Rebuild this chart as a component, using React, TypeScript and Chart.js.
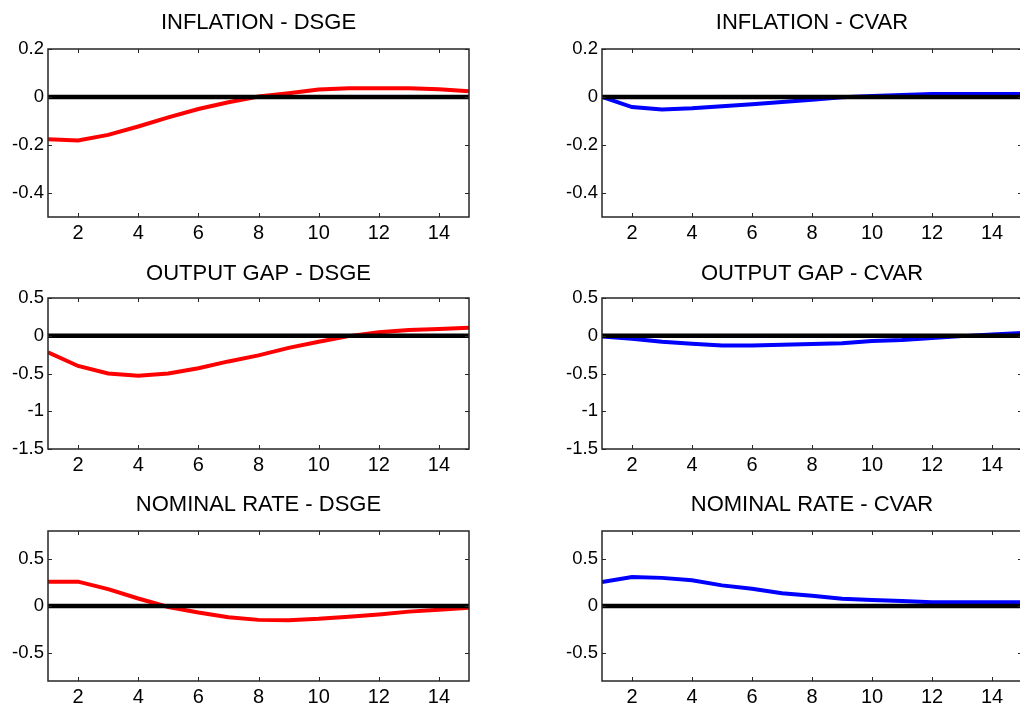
import React, { useEffect, useRef } from "react";
import { Chart, registerables } from "chart.js";

Chart.register(...registerables);

// ---------- data ----------
const periods = [1, 2, 3, 4, 5, 6, 7, 8, 9, 10, 11, 12, 13, 14, 15];
const xTicks = [2, 4, 6, 8, 10, 12, 14];
const zeroLine = [0, 0, 0, 0, 0, 0, 0, 0, 0, 0, 0, 0, 0, 0, 0];

const inflationDSGE = [-0.176, -0.181, -0.158, -0.123, -0.085, -0.05, -0.022, 0.002, 0.016, 0.031, 0.036, 0.036, 0.036, 0.032, 0.024];
const inflationCVAR = [0.0, -0.042, -0.052, -0.047, -0.039, -0.03, -0.021, -0.011, -0.001, 0.004, 0.008, 0.012, 0.013, 0.013, 0.013];
const outputGapDSGE = [-0.22, -0.4, -0.5, -0.53, -0.5, -0.43, -0.34, -0.26, -0.16, -0.08, -0.005, 0.045, 0.075, 0.09, 0.105];
const outputGapCVAR = [-0.01, -0.04, -0.08, -0.105, -0.13, -0.13, -0.12, -0.11, -0.1, -0.07, -0.055, -0.03, -0.005, 0.015, 0.035];
const nominalRateDSGE = [0.26, 0.26, 0.18, 0.08, -0.01, -0.07, -0.12, -0.148, -0.151, -0.137, -0.115, -0.09, -0.06, -0.04, -0.018];
const nominalRateCVAR = [0.255, 0.31, 0.3, 0.275, 0.22, 0.185, 0.135, 0.11, 0.077, 0.065, 0.053, 0.04, 0.04, 0.04, 0.04];

const inflationTicks = [-0.4, -0.2, 0, 0.2];
const outputGapTicks = [-1.5, -1, -0.5, 0, 0.5];
const nominalRateTicks = [-0.5, 0, 0.5];

const titles = [
  "INFLATION - DSGE",
  "INFLATION - CVAR",
  "OUTPUT GAP - DSGE",
  "OUTPUT GAP - CVAR",
  "NOMINAL RATE - DSGE",
  "NOMINAL RATE - CVAR",
];

const FONT = "'Liberation Sans', Arial, Helvetica, sans-serif";
const DSGE_COLOR = "#ff0000";
const CVAR_COLOR = "#0000ff";

// ---------- layout ----------
const rows = [
  { top: 10, height: 237, gap: 12.6, yMin: -0.5, yMax: 0.2, ticks: inflationTicks },
  { top: 261, height: 218, gap: 10.6, yMin: -1.5, yMax: 0.5, ticks: outputGapTicks },
  { top: 492, height: 219, gap: 12.6, yMin: -0.8, yMax: 0.8, ticks: nominalRateTicks },
];
const cols = [
  { left: 0, width: 480, padRight: 11 },
  { left: 554, width: 480, padRight: 12 },
];

const panels = [
  { title: titles[0], data: inflationDSGE, color: DSGE_COLOR, row: 0, col: 0 },
  { title: titles[1], data: inflationCVAR, color: CVAR_COLOR, row: 0, col: 1 },
  { title: titles[2], data: outputGapDSGE, color: DSGE_COLOR, row: 1, col: 0 },
  { title: titles[3], data: outputGapCVAR, color: CVAR_COLOR, row: 1, col: 1 },
  { title: titles[4], data: nominalRateDSGE, color: DSGE_COLOR, row: 2, col: 0 },
  { title: titles[5], data: nominalRateCVAR, color: CVAR_COLOR, row: 2, col: 1 },
];

const boxPlugin = {
  id: "matlabBox",
  afterDraw(chart: any) {
    const { ctx, chartArea: a, scales } = chart;
    const xs = scales.x;
    const ys = scales.y;
    const tl = 4;
    ctx.save();
    ctx.strokeStyle = "#262626";
    ctx.lineWidth = 1;
    ctx.beginPath();
    for (const t of xs.ticks) {
      const px = Math.round(xs.getPixelForValue(t.value)) + 0.5;
      ctx.moveTo(px, a.bottom);
      ctx.lineTo(px, a.bottom - tl);
      ctx.moveTo(px, a.top);
      ctx.lineTo(px, a.top + tl);
    }
    for (const t of ys.ticks) {
      const py = Math.round(ys.getPixelForValue(t.value)) + 0.5;
      ctx.moveTo(a.left, py);
      ctx.lineTo(a.left + tl, py);
      ctx.moveTo(a.right, py);
      ctx.lineTo(a.right - tl, py);
    }
    ctx.stroke();
    ctx.lineWidth = 1.5;
    ctx.strokeRect(a.left, a.top, a.right - a.left, a.bottom - a.top);
    ctx.restore();
  },
};

function Panel({ p }: { p: typeof panels[number] }) {
  const ref = useRef<HTMLCanvasElement | null>(null);
  const row = rows[p.row];
  const col = cols[p.col];

  useEffect(() => {
    if (!ref.current) return;
    const chart = new Chart(ref.current, {
      type: "line",
      data: {
        datasets: [
          {
            data: periods.map((x, i) => ({ x, y: zeroLine[i] })),
            borderColor: "#000000",
            borderWidth: 4.5,
            pointRadius: 0,
            tension: 0,
            order: 0,
          },
          {
            data: periods.map((x, i) => ({ x, y: p.data[i] })),
            borderColor: p.color,
            borderWidth: 4,
            pointRadius: 0,
            tension: 0,
            order: 1,
          },
        ],
      },
      options: {
        animation: false,
        responsive: false,
        devicePixelRatio: 1,
        events: [],
        layout: { padding: { top: 0, left: 0, right: col.padRight, bottom: 0 } },
        plugins: {
          legend: { display: false },
          tooltip: { enabled: false },
          title: {
            display: true,
            text: p.title,
            fullSize: false,
            color: "#000000",
            font: { family: FONT, size: 22, weight: "normal", lineHeight: 1.2 },
            padding: { top: 0, bottom: row.gap },
          },
        },
        scales: {
          x: {
            type: "linear",
            min: 1,
            max: 15,
            bounds: "data",
            grid: { display: false, drawTicks: false },
            border: { display: false },
            afterBuildTicks: (s: any) => {
              s.ticks = xTicks.map((v) => ({ value: v }));
            },
            afterFit: (s: any) => {
              s.height = 30;
            },
            ticks: {
              color: "#000000",
              padding: 4,
              maxRotation: 0,
              autoSkip: false,
              font: { family: FONT, size: 20 },
              callback: (v: any) => String(v),
            },
          },
          y: {
            type: "linear",
            min: row.yMin,
            max: row.yMax,
            bounds: "data",
            grid: { display: false, drawTicks: false },
            border: { display: false },
            afterBuildTicks: (s: any) => {
              s.ticks = row.ticks.map((v) => ({ value: v }));
            },
            afterFit: (s: any) => {
              s.width = 48;
            },
            ticks: {
              color: "#000000",
              padding: 4,
              autoSkip: false,
              font: { family: FONT, size: 18.5 },
              callback: (v: any) => String(v),
            },
          },
        },
      },
      plugins: [boxPlugin],
    } as any);
    return () => chart.destroy();
  }, []);

  return (
    <canvas
      ref={ref}
      width={col.width}
      height={row.height}
      style={{
        position: "absolute",
        left: col.left,
        top: row.top,
        width: col.width,
        height: row.height,
      }}
    />
  );
}

export default function App() {
  return (
    <div
      style={{
        position: "fixed",
        left: 0,
        top: 0,
        width: 1020,
        height: 707,
        overflow: "hidden",
        background: "#ffffff",
      }}
    >
      {panels.map((p, i) => (
        <Panel key={i} p={p} />
      ))}
    </div>
  );
}
